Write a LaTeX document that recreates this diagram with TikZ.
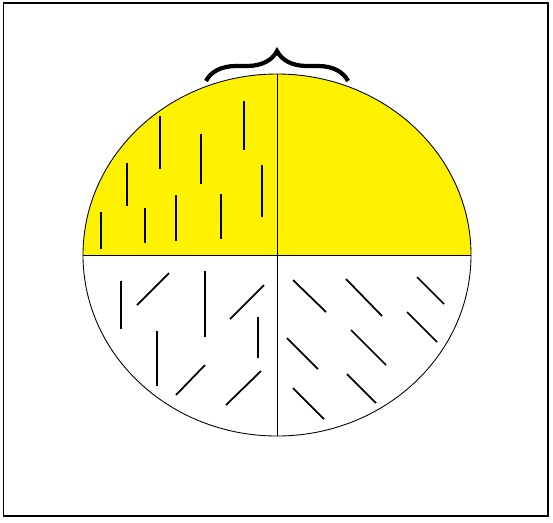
\documentclass[tikz,border=0pt]{standalone}
\usepackage{tikz}
\usetikzlibrary{decorations.pathreplacing}
\definecolor{lemon}{RGB}{255,242,0}

\begin{document}
\begin{tikzpicture}
[x=0.02cm, y=-0.02cm, line width=0.5pt,
stroke/.style={line width=1pt},
bracket/.style={decorate, decoration={brace, amplitude=0.6cm}, line width=2.4pt}]
\useasboundingbox (0,0) rectangle (553,522);
\draw[line width=1.1pt] (3.5,3) rectangle (548,516);

\coordinate (c) at (277,255);
\coordinate (top) at (277,74);
\coordinate (bot) at (277,436);
\coordinate (west) at (83,255);
\coordinate (east) at (471,255);

% upper half
\begin{scope}
\clip (0,0) rectangle (553,255);
\fill[lemon] (c) ellipse [x radius=194, y radius=181];
\end{scope}
\draw (c) ellipse [x radius=194, y radius=181];
\draw (top) -- (bot);
\draw (west) -- (east);

% brace over the top
\coordinate (b1) at (206,81);
\coordinate (b2) at (348,81);
\draw[bracket] (b1) -- (b2);

% upper left: vertical strokes
\foreach \x/\ya/\yb in {101/212/249, 127/163/206, 145/208/243, 160/116/169,
  176/195/241, 201/134/184, 221/194/239, 244/101/150, 262/165/217}
  \draw[stroke] (\x,\ya) -- (\x,\yb);

% lower left: vertical and slanted strokes
\foreach \x/\ya/\yb in {121/281/329, 205/271/337, 258/317/358, 157/331/386}
  \draw[stroke] (\x,\ya) -- (\x,\yb);
\foreach \xa/\ya/\xb/\yb in {137/305/169/273, 230/319/264/285,
  176/395/205/365, 226/405/261/371}
  \draw[stroke] (\xa,\ya) -- (\xb,\yb);

% lower right: slanted strokes
\foreach \xa/\ya/\xb/\yb in {293/280/326/312, 346/279/382/316, 417/277/444/304,
  407/312/437/342, 351/330/386/365, 287/338/318/369, 347/374/376/403, 293/388/324/419}
  \draw[stroke] (\xa,\ya) -- (\xb,\yb);
\end{tikzpicture}
\end{document}
